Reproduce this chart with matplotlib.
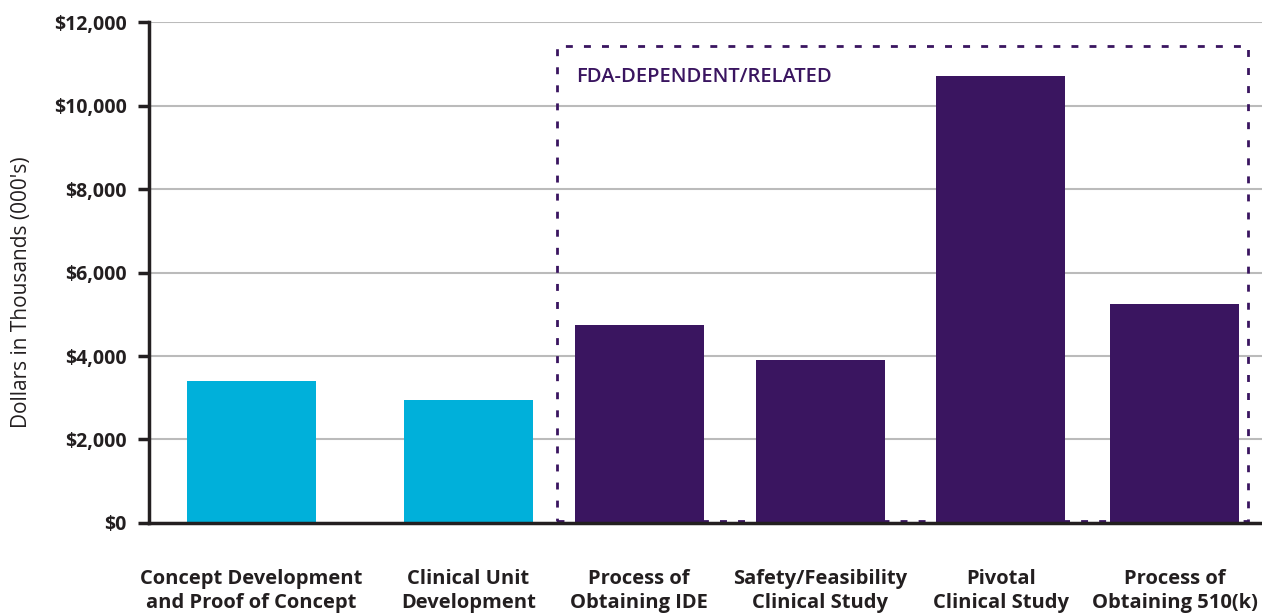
import matplotlib
matplotlib.use("Agg")
import matplotlib.pyplot as plt
from matplotlib.patches import Rectangle
from matplotlib.ticker import FuncFormatter

plt.rcParams['font.family'] = ['Open Sans', 'DejaVu Sans']

# data
categories = ["Concept Development\nand Proof of Concept",
              "Clinical Unit\nDevelopment",
              "Process of\nObtaining IDE",
              "Safety/Feasibility\nClinical Study",
              "Pivotal\nClinical Study",
              "Process of\nObtaining 510(k)"]
costs = [3400, 2950, 4750, 3900, 10700, 5250]
fda_related = [False, False, True, True, True, True]
yticks = [0, 2000, 4000, 6000, 8000, 10000, 12000]

# layout
xpos = [0, 1.175, 2.10, 3.08, 4.06, 5.0]
cyan = "#00B0DA"
purple = "#3A1560"
dark = "#231F20"

fig = plt.figure(figsize=(12.62, 6.15), dpi=100)
ax = fig.add_axes([0.1181, 0.1496, 0.8819, 0.8146])

colors = [purple if f else cyan for f in fda_related]
ax.bar(xpos, costs, width=0.699, color=colors, zorder=3)

ax.set_xlim(-0.555, 5.474)
ax.set_ylim(0, 12000)
ax.set_yticks(yticks)
ax.yaxis.set_major_formatter(FuncFormatter(lambda v, p: f"${v:,.0f}"))
ax.set_xticks(xpos)
ax.set_xticklabels(categories, fontsize=14.5, fontweight='bold', color=dark, linespacing=1.3)
ax.tick_params(axis='x', length=0, pad=33)
ax.tick_params(axis='y', length=8, width=2.5, color=dark, labelsize=14, labelcolor=dark, pad=8)
for lbl in ax.get_yticklabels():
    lbl.set_fontweight('bold')

ax.grid(axis='y', color='#BBBBBB', linewidth=1.5, zorder=0)
ax.set_axisbelow(True)
for s in ['top', 'right']:
    ax.spines[s].set_visible(False)
for s in ['left', 'bottom']:
    ax.spines[s].set_color(dark)
    ax.spines[s].set_linewidth(2.5)
    ax.spines[s].set_zorder(4)

ax.set_ylabel("Dollars in Thousands (000's)", fontsize=15, color=dark)
ax.yaxis.set_label_coords(-0.105, 0.461)

# dashed FDA box
box = Rectangle((1.655, 50), 5.398 - 1.655, 11425 - 50, fill=False,
                edgecolor=purple, linewidth=2.0, linestyle=(0, (2.5, 4)), zorder=2)
ax.add_patch(box)
ax.text(1.76, 10680, "FDA-DEPENDENT/RELATED", color=purple, fontsize=14.5,
        fontweight='semibold', va='center', ha='left', zorder=5)

fig.savefig("out.png", dpi=100)
